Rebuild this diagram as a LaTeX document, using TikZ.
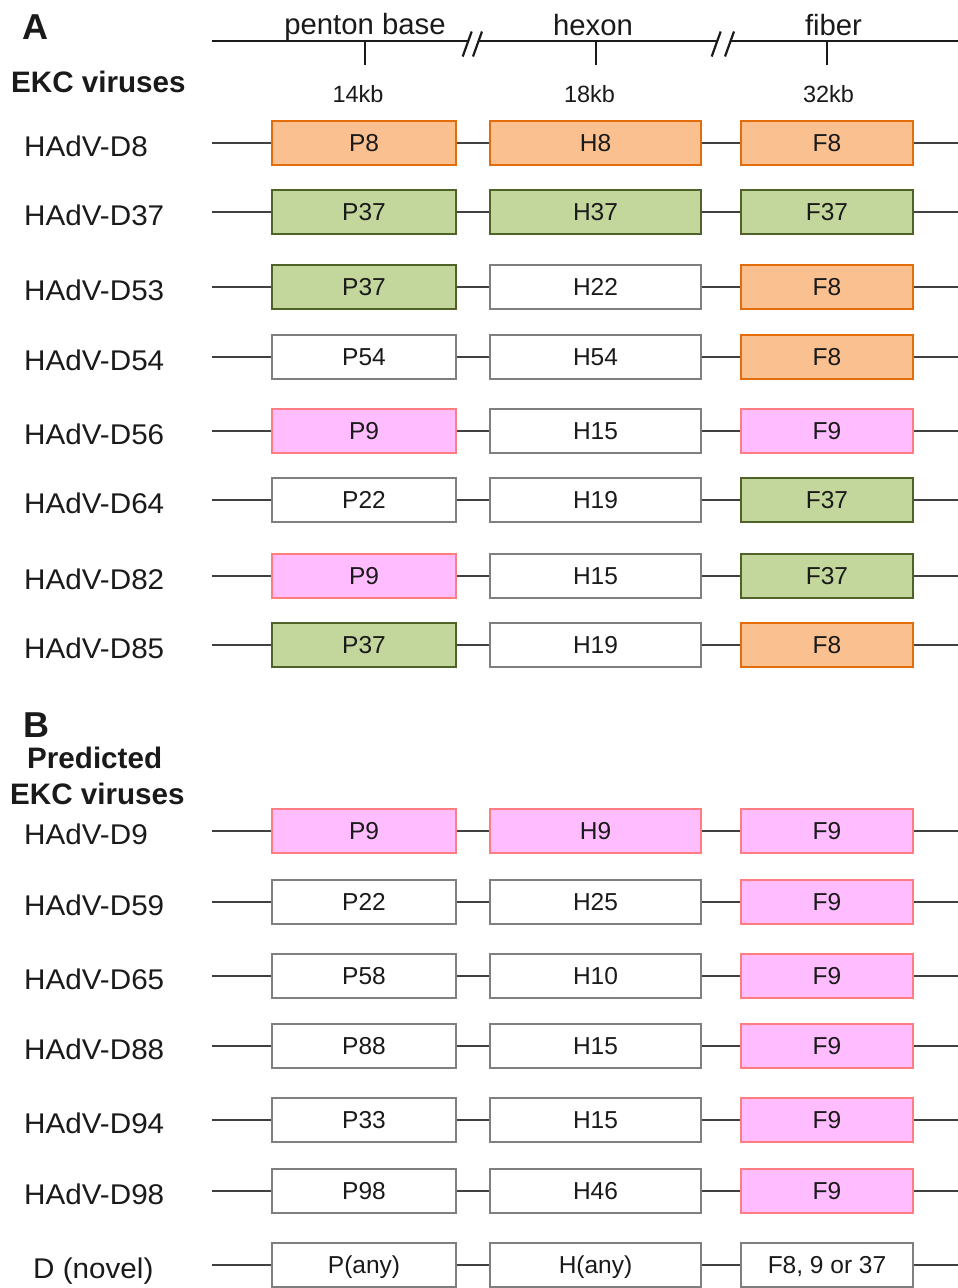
\documentclass[tikz,border=0pt]{standalone}
\usepackage{fontspec}
\setmainfont{Liberation Sans}
\newfontfamily\widefont[FakeStretch=1.04]{Liberation Sans}
\definecolor{orfill}{HTML}{FAC090}
\definecolor{ordraw}{HTML}{E46C0A}
\definecolor{grfill}{HTML}{C3D69B}
\definecolor{grdraw}{HTML}{4F6228}
\definecolor{pkfill}{HTML}{FFBDFF}
\definecolor{pkdraw}{HTML}{FF7C80}
\definecolor{wtdraw}{HTML}{7F7F7F}
\definecolor{linec}{HTML}{404040}
\definecolor{txt}{HTML}{1A1A1A}
\tikzset{
  gbox/.style={draw, rectangle, inner sep=0pt, minimum height=44pt, line width=2pt,
    text height=17.5pt, text depth=0pt, font=\fontsize{24.5}{26}\selectfont, text=txt},
  pbx/.style={gbox, minimum width=184pt},
  hbx/.style={gbox, minimum width=211pt},
  fbx/.style={gbox, minimum width=172pt},
  orng/.style={fill=orfill, draw=ordraw},
  grn/.style={fill=grfill, draw=grdraw},
  pnk/.style={fill=pkfill, draw=pkdraw},
  wht/.style={fill=white, draw=wtdraw},
  conn/.style={draw=linec, line width=2pt},
  lab/.style={inner sep=0pt, anchor=base west, text=txt, font=\widefont\fontsize{28.5}{30}\selectfont},
  hdr/.style={inner sep=0pt, anchor=base, text=txt, font=\fontsize{29.3}{30}\selectfont},
  kb/.style={inner sep=0pt, anchor=base, text=txt, font=\fontsize{23.5}{26}\selectfont},
  ttl/.style={inner sep=0pt, anchor=base west, text=txt, font=\bfseries\fontsize{29.6}{31}\selectfont},
  letter/.style={inner sep=0pt, anchor=base west, text=txt, font=\bfseries\fontsize{36}{38}\selectfont},
  axis/.style={draw=txt, line width=2pt},
}
\newcommand\vrow[9]{%
  \node[lab] (lab#1) at (24,#2+13.5) {#3};
  \coordinate (l#1) at (212,#2);
  \coordinate (r#1) at (958,#2);
  \node[pbx,#4] (p#1) at (364,#2) {#5};
  \node[hbx,#6] (h#1) at (595.5,#2) {#7};
  \node[fbx,#8] (f#1) at (827,#2) {#9};
  \draw[conn] (l#1) -- (p#1.west) (p#1.east) -- (h#1.west)
              (h#1.east) -- (f#1.west) (f#1.east) -- (r#1);
}
\begin{document}
\begin{tikzpicture}[x=1pt,y=-1pt]
\useasboundingbox (0,0) rectangle (958,1288);
% panel A titles
\node[letter] (A) at (22,39) {A};
\node[ttl] (ekcA) at (11,92) {EKC viruses};
% genome axis
\coordinate (a0) at (212,41);
\coordinate (a1) at (468.3,41);
\coordinate (a2) at (479,41);
\coordinate (a3) at (717.7,41);
\coordinate (a4) at (731,41);
\coordinate (a5) at (958,41);
\draw[axis] (a0) -- (a1) (a2) -- (a3) (a4) -- (a5);
\draw[axis, line width=2.2pt] (462.7,56.5) -- (471.7,31.5) (473,56.5) -- (482,31.5)
  (711.7,56.5) -- (720.7,31.5) (725,56.5) -- (734,31.5);
\coordinate (t1) at (365,41);
\coordinate (t2) at (596,41);
\coordinate (t3) at (827,41);
\draw[axis] (t1) -- ++(0,24) (t2) -- ++(0,24) (t3) -- ++(0,24);
\node[hdr] (hpen) at (365,34) {penton base};
\node[hdr] (hhex) at (593,35) {hexon};
\node[hdr] (hfib) at (833.5,35) {fiber};
\node[kb] (k1) at (358,102) {14kb};
\node[kb] (k2) at (589.5,102) {18kb};
\node[kb] (k3) at (828.5,102) {32kb};
% rows A
\vrow{1}{143}{HAdV-D8}{orng}{P8}{orng}{H8}{orng}{F8}
\vrow{2}{212}{HAdV-D37}{grn}{P37}{grn}{H37}{grn}{F37}
\vrow{3}{287}{HAdV-D53}{grn}{P37}{wht}{H22}{orng}{F8}
\vrow{4}{357}{HAdV-D54}{wht}{P54}{wht}{H54}{orng}{F8}
\vrow{5}{431}{HAdV-D56}{pnk}{P9}{wht}{H15}{pnk}{F9}
\vrow{6}{500}{HAdV-D64}{wht}{P22}{wht}{H19}{grn}{F37}
\vrow{7}{576}{HAdV-D82}{pnk}{P9}{wht}{H15}{grn}{F37}
\vrow{8}{645}{HAdV-D85}{grn}{P37}{wht}{H19}{orng}{F8}
% panel B titles
\node[letter] (B) at (23,737) {B};
\node[ttl] (pred) at (27,768) {Predicted};
\node[ttl] (ekcB) at (10,804) {EKC viruses};
% rows B
\vrow{9}{831}{HAdV-D9}{pnk}{P9}{pnk}{H9}{pnk}{F9}
\vrow{10}{902}{HAdV-D59}{wht}{P22}{wht}{H25}{pnk}{F9}
\vrow{11}{976}{HAdV-D65}{wht}{P58}{wht}{H10}{pnk}{F9}
\vrow{12}{1046}{HAdV-D88}{wht}{P88}{wht}{H15}{pnk}{F9}
\vrow{13}{1120}{HAdV-D94}{wht}{P33}{wht}{H15}{pnk}{F9}
\vrow{14}{1191}{HAdV-D98}{wht}{P98}{wht}{H46}{pnk}{F9}
\vrow{15}{1265}{\hspace*{9pt}D (novel)}{wht}{P(any)}{wht}{H(any)}{wht}{F8, 9 or 37}
\end{tikzpicture}
\end{document}
